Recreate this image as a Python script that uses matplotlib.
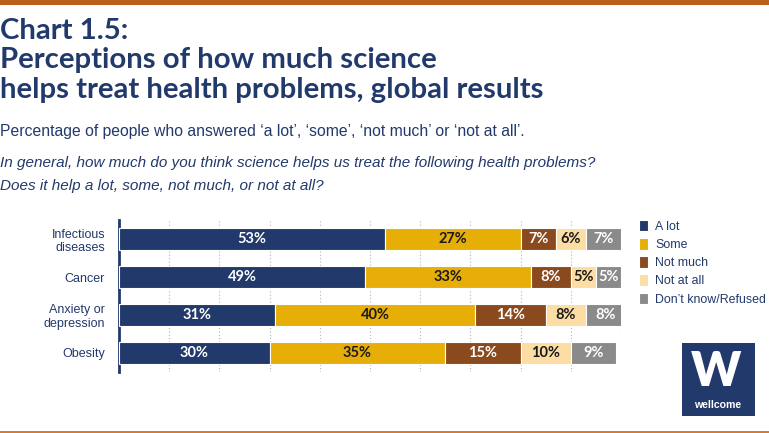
import matplotlib
matplotlib.use("Agg")
import matplotlib.pyplot as plt
from matplotlib.patches import Rectangle
import numpy as np

categories = ["Infectious\ndiseases", "Cancer", "Anxiety or\ndepression", "Obesity"]
series_names = ["A lot", "Some", "Not much", "Not at all", "Don\u2019t know/Refused"]
a_lot = [53, 49, 31, 30]
some = [27, 33, 40, 35]
not_much = [7, 8, 14, 15]
not_at_all = [6, 5, 8, 10]
dont_know = [7, 5, 8, 9]
series = [a_lot, some, not_much, not_at_all, dont_know]

colors = ["#22396B", "#E6AE06", "#8B4A1E", "#FCDDA4", "#8A8A8A"]
label_colors = ["white", "#1a1a1a", "white", "#1a1a1a", "white"]
navy = "#22396B"
orange = "#B8601A"

W, H = 769, 433
fig = plt.figure(figsize=(W / 100, H / 100), dpi=100)
fig.patch.set_facecolor("white")

# top and bottom bands
fig.add_artist(Rectangle((0, 1 - 5 / H), 1, 5 / H, transform=fig.transFigure, color=orange, lw=0))
fig.add_artist(Rectangle((0, 0), 1, 2.5 / H, transform=fig.transFigure, color="#D97B2E", lw=0))

def fx(px):
    return px / W

def fy(py):
    return 1 - py / H

title_font = "Lato"
body_font = "Liberation Sans"
for txt, base in [("Chart 1.5:", 39), ("Perceptions of how much science", 68),
                  ("helps treat health problems, global results", 98)]:
    fig.text(fx(0), fy(base), txt, fontsize=21.2, fontweight="bold", color=navy,
             family=title_font, va="baseline")
fig.text(fx(0), fy(136), "Percentage of people who answered \u2018a lot\u2019, \u2018some\u2019, \u2018not much\u2019 or \u2018not at all\u2019.",
         fontsize=11.3, color=navy, family=body_font, va="baseline")
fig.text(fx(0), fy(167), "In general, how much do you think science helps us treat the following health problems?",
         fontsize=11.0, color=navy, family=body_font, style="italic", va="baseline")
fig.text(fx(0), fy(190), "Does it help a lot, some, not much, or not at all?",
         fontsize=11.0, color=navy, family=body_font, style="italic", va="baseline")

ax = fig.add_axes([fx(119), fy(372), fx(621) - fx(119), (372 - 220) / H])
y = np.arange(len(categories))
left = np.zeros(len(categories))
for vals, col, lc, name in zip(series, colors, label_colors, series_names):
    vals = np.array(vals, dtype=float)
    ax.barh(y, vals, left=left, height=0.6, color=col, edgecolor="white", linewidth=0.8, label=name, zorder=3)
    for yi, l, v in zip(y, left, vals):
        ax.text(l + v / 2, yi, f"{int(v)}%", ha="center", va="center", color=lc,
                fontsize=10.5, fontweight="bold", family=title_font, zorder=4)
    left += vals

ax.set_xlim(0, 100)
ax.set_ylim(len(categories) - 0.5, -0.5)
ax.set_xticks(np.arange(10, 101, 10))
ax.xaxis.grid(True, linestyle=(0, (1, 2)), color="#b5b5b5", linewidth=0.8, zorder=0)
ax.tick_params(axis="x", length=0, labelbottom=False)
ax.tick_params(axis="y", length=0, pad=10)
ax.set_yticks(y)
ax.set_yticklabels(categories, fontsize=9.0, color=navy, family=body_font)
for s in ["top", "right", "bottom"]:
    ax.spines[s].set_visible(False)
ax.spines["left"].set_color(navy)
ax.spines["left"].set_linewidth(2)
ax.set_facecolor("none")

handles, labels = ax.get_legend_handles_labels()
leg = fig.legend(handles, labels, loc="upper left", bbox_to_anchor=(fx(639), fy(220)),
                 frameon=False, fontsize=8.9, handlelength=0.75, handleheight=1.05,
                 handletextpad=0.55, labelspacing=0.42, borderaxespad=0, borderpad=0)
for t in leg.get_texts():
    t.set_color(navy)
    t.set_family(body_font)

# logo
fig.add_artist(Rectangle((fx(682), fy(416)), fx(755) - fx(682), (416 - 343) / H,
                         transform=fig.transFigure, color=navy, lw=0))
fig.text(fx(716), fy(372), "W", fontsize=34, fontweight="heavy", color="white", family="Lato",
         ha="center", va="center")
fig.text(fx(718), fy(405), "wellcome", fontsize=7.6, fontweight="bold", color="white", family="Liberation Sans",
         ha="center", va="center")

fig.savefig("out.png", dpi=100, facecolor="white")
